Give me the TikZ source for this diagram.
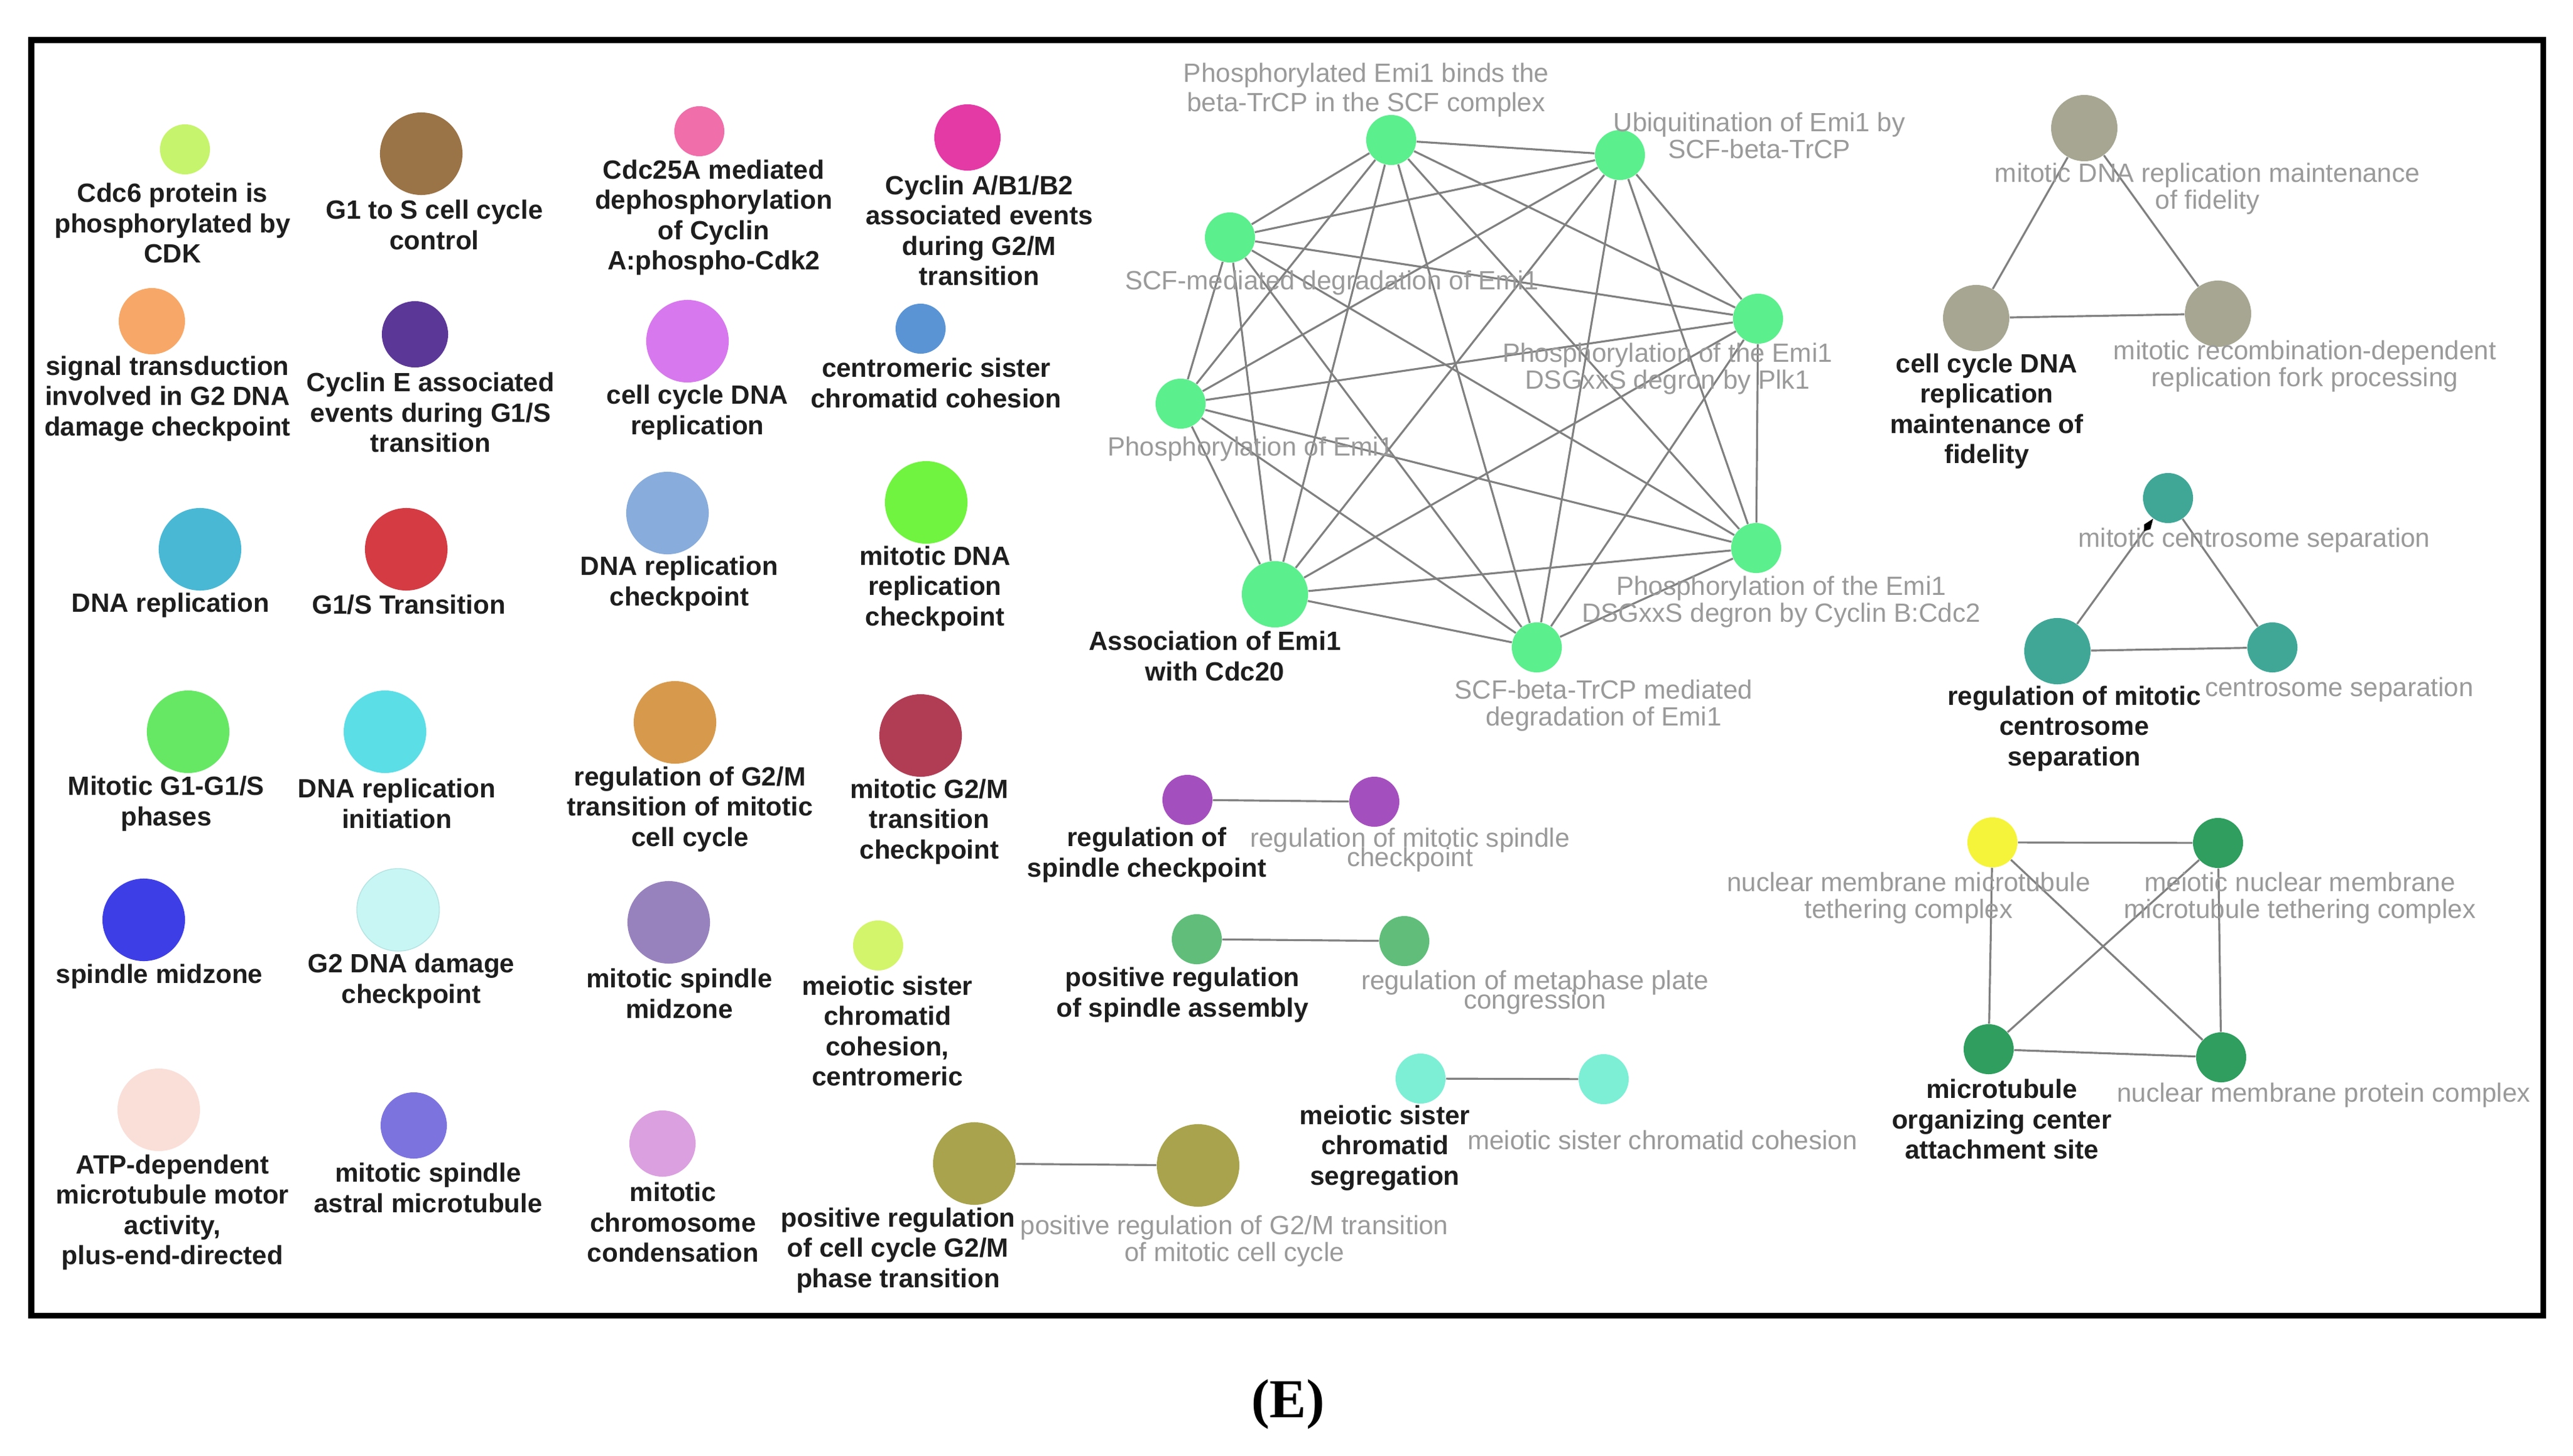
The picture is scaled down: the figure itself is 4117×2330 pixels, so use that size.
\documentclass[tikz,border=0pt]{standalone}
\usepackage{fontspec}
\setmainfont{Liberation Sans}
\newfontfamily\capfont{Liberation Serif}
\usetikzlibrary{arrows.meta}

\definecolor{termblack}{HTML}{1E1E1E}
\definecolor{hitgray}{HTML}{9A9A9A}
\definecolor{linkgray}{HTML}{808080}
\definecolor{cdcsix}{HTML}{C6F46C}
\definecolor{gones}{HTML}{9A7346}
\definecolor{cdcta}{HTML}{F06EAA}
\definecolor{cycab}{HTML}{E43AA6}
\definecolor{signal}{HTML}{F7A868}
\definecolor{cyce}{HTML}{5B3797}
\definecolor{ccdna}{HTML}{D778EE}
\definecolor{centro}{HTML}{5A94D5}
\definecolor{dnarep}{HTML}{48B8D5}
\definecolor{gonest}{HTML}{D43B43}
\definecolor{dnachk}{HTML}{88ACDB}
\definecolor{mitdna}{HTML}{70F43F}
\definecolor{mitgone}{HTML}{66E865}
\definecolor{dnaini}{HTML}{5CDEE6}
\definecolor{reggtm}{HTML}{D79A4D}
\definecolor{mitgtm}{HTML}{B13D55}
\definecolor{spmid}{HTML}{3E3EE6}
\definecolor{gtdna}{HTML}{C8F6F4}
\definecolor{gtdnarim}{HTML}{B4E4E2}
\definecolor{mitspm}{HTML}{9782BD}
\definecolor{meico}{HTML}{D3F56B}
\definecolor{atp}{HTML}{FADFD8}
\definecolor{astral}{HTML}{7C73DF}
\definecolor{chrcon}{HTML}{DBA0DF}
\definecolor{olive}{HTML}{A8A34C}
\definecolor{spindle}{HTML}{A44FBE}
\definecolor{assembly}{HTML}{60BE7A}
\definecolor{segreg}{HTML}{7DEFD5}
\definecolor{emi}{HTML}{5CEF8D}
\definecolor{fidel}{HTML}{A6A692}
\definecolor{centsep}{HTML}{40A797}
\definecolor{tether}{HTML}{F5F43A}
\definecolor{nucmem}{HTML}{2F9E5E}

\begin{document}
\begin{tikzpicture}[x=0.01cm, y=-0.01cm,
        sm/.style={circle, inner sep=0pt, minimum size=0.8cm},
        md/.style={circle, inner sep=0pt, minimum size=1.06cm},
        lg/.style={circle, inner sep=0pt, minimum size=1.32cm},
        term/.style={align=center, inner sep=0pt, text=termblack, font=\bfseries\fontsize{12}{13.8}\selectfont},
        hit/.style={align=center, inner sep=0pt, text=hitgray, font=\fontsize{12}{12.3}\selectfont},
        tighthit/.style={hit, font={\fontsize{12}{8.8}\selectfont\setlength{\lineskiplimit}{-20pt}}},
        link/.style={draw=linkgray, line width=0.9pt}]
            \useasboundingbox (0,0) rectangle (4117,2330);
            \draw[line width=0.09cm] (50,64) rectangle (4069,2105);

            % single terms
            \node[sm,fill=cdcsix] (cdcsix) at (296,239) {};
            \node[lg,fill=gones] (gones) at (674,246) {};
            \node[sm,fill=cdcta] (cdcta) at (1119,210) {};
            \node[md,fill=cycab] (cycab) at (1548,220) {};
            \node[md,fill=signal] (signal) at (243,514) {};
            \node[md,fill=cyce] (cyce) at (664,535) {};
            \node[lg,fill=ccdna] (ccdna) at (1100,546) {};
            \node[sm,fill=centro] (centro) at (1473,526) {};
            \node[lg,fill=dnarep] (dnarep) at (320,879) {};
            \node[lg,fill=gonest] (gonest) at (650,879) {};
            \node[lg,fill=dnachk] (dnachk) at (1068,821) {};
            \node[lg,fill=mitdna] (mitdna) at (1482,804) {};
            \node[lg,fill=mitgone] (mitgone) at (301,1171) {};
            \node[lg,fill=dnaini] (dnaini) at (616,1171) {};
            \node[lg,fill=reggtm] (reggtm) at (1080,1156) {};
            \node[lg,fill=mitgtm] (mitgtm) at (1473,1177) {};
            \node[lg,fill=spmid] (spmid) at (230,1472) {};
            \node[lg,fill=gtdna,draw=gtdnarim,line width=0.4pt] (gtdna) at (637,1456) {};
            \node[lg,fill=mitspm] (mitspm) at (1070,1476) {};
            \node[sm,fill=meico] (meico) at (1405,1513) {};
            \node[lg,fill=atp] (atp) at (254,1776) {};
            \node[md,fill=astral] (astral) at (662,1801) {};
            \node[md,fill=chrcon] (chrcon) at (1060,1830) {};

            \node[term] (cdcsixtxt) at (276,357) {Cdc6 protein is\\phosphorylated by\\CDK};
            \node[term] (gonestxt) at (695,360) {G1 to S cell cycle\\control};
            \node[term] (cdctatxt) at (1142,348) {Cdc25A mediated\\dephosphorylation\\of Cyclin\\A:phospho-Cdk2};
            \node[term] (cycabtxt) at (1567,369) {Cyclin A/B1/B2\\associated events\\during G2/M\\transition};
            \node[term] (signaltxt) at (268,638) {signal transduction\\involved in G2 DNA\\damage checkpoint};
            \node[term] (cycetxt) at (689,660) {Cyclin E associated\\events during G1/S\\transition};
            \node[term] (ccdnatxt) at (1116,660) {cell cycle DNA\\replication};
            \node[term] (centrotxt) at (1498,613) {centromeric sister\\chromatid cohesion};
            \node[term] (dnareptxt) at (273,969) {DNA replication};
            \node[term] (gonesttxt) at (654,968) {G1/S Transition};
            \node[term] (dnachktxt) at (1087,934) {DNA replication\\checkpoint};
            \node[term] (mitdnatxt) at (1496,942) {mitotic DNA\\replication\\checkpoint};
            \node[term] (mitgonetxt) at (266,1286) {Mitotic G1-G1/S\\phases};
            \node[term] (dnainitxt) at (635,1286) {DNA replication\\initiation};
            \node[term] (reggtmtxt) at (1104,1295) {regulation of G2/M\\transition of mitotic\\cell cycle};
            \node[term] (mitgtmtxt) at (1487,1315) {mitotic G2/M\\transition\\checkpoint};
            \node[term] (spmidtxt) at (255,1563) {spindle midzone};
            \node[term] (gtdnatxt) at (658,1570) {G2 DNA damage\\checkpoint};
            \node[term] (mitspmtxt) at (1087,1590) {mitotic spindle\\midzone};
            \node[term] (meicotxt) at (1420,1650) {meiotic sister\\chromatid\\cohesion,\\centromeric};
            \node[term] (atptxt) at (276,1940) {ATP-dependent\\microtubule motor\\activity,\\plus-end-directed};
            \node[term] (astraltxt) at (685,1901) {mitotic spindle\\astral microtubule};
            \node[term] (chrcontxt) at (1077,1956) {mitotic\\chromosome\\condensation};

            % pairs
            \node[lg,fill=olive] (posphase) at (1559,1862) {};
            \node[lg,fill=olive] (postrans) at (1917,1865) {};
            \node[sm,fill=spindle] (regspc) at (1900,1280) {};
            \node[sm,fill=spindle] (regmspc) at (2199,1283) {};
            \node[sm,fill=assembly] (posspa) at (1915,1503) {};
            \node[sm,fill=assembly] (metaph) at (2247,1506) {};
            \node[sm,fill=segreg] (meiseg) at (2273,1726) {};
            \node[sm,fill=segreg] (meicoh) at (2566,1727) {};

            \draw[link] (posphase) -- (postrans);
            \draw[link] (regspc) -- (regmspc);
            \draw[link] (posspa) -- (metaph);
            \draw[link] (meiseg) -- (meicoh);

            \node[term] (posphasetxt) at (1437,2001) {positive regulation\\of cell cycle G2/M\\phase transition};
            \node[hit] (postranstxt) at (1975,1986) {positive regulation of G2/M transition\\of mitotic cell cycle};
            \node[term] (regspctxt) at (1835,1368) {regulation of\\spindle checkpoint};
            \node[tighthit] (regmspctxt) at (2256,1360) {regulation of mitotic spindle\\checkpoint};
            \node[term] (posspatxt) at (1892,1592) {positive regulation\\of spindle assembly};
            \node[tighthit] (metaphtxt) at (2456,1588) {regulation of metaphase plate\\congression};
            \node[term] (meisegtxt) at (2216,1837) {meiotic sister\\chromatid\\segregation};
            \node[hit] (meicohtxt) at (2660,1824) {meiotic sister chromatid cohesion};

            % Emi1 cluster
            \node[sm,fill=emi] (pbind) at (2226,224) {};
            \node[sm,fill=emi] (ubiq) at (2592,248) {};
            \node[sm,fill=emi] (scfm) at (1968,380) {};
            \node[sm,fill=emi] (plk) at (2813,510) {};
            \node[sm,fill=emi] (phos) at (1889,646) {};
            \node[sm,fill=emi] (cycb) at (2810,877) {};
            \node[md,fill=emi] (assoc) at (2040,951) {};
            \node[sm,fill=emi] (scfb) at (2459,1036) {};

            \draw[link] (pbind) -- (ubiq) (pbind) -- (scfm) (pbind) -- (plk) (pbind) -- (phos) (pbind) -- (cycb) (pbind) -- (assoc) (pbind) -- (scfb);
            \draw[link] (ubiq) -- (scfm) (ubiq) -- (plk) (ubiq) -- (phos) (ubiq) -- (cycb) (ubiq) -- (assoc) (ubiq) -- (scfb);
            \draw[link] (scfm) -- (plk) (scfm) -- (phos) (scfm) -- (cycb) (scfm) -- (assoc) (scfm) -- (scfb);
            \draw[link] (plk) -- (phos) (plk) -- (cycb) (plk) -- (assoc) (plk) -- (scfb);
            \draw[link] (phos) -- (cycb) (phos) -- (assoc) (phos) -- (scfb);
            \draw[link] (cycb) -- (assoc) (cycb) -- (scfb);
            \draw[link] (assoc) -- (scfb);

            \node[hit,font=\fontsize{12}{13.4}\selectfont] (pbindtxt) at (2186,144) {Phosphorylated Emi1 binds the\\beta-TrCP in the SCF complex};
            \node[hit] (ubiqtxt) at (2815,217) {Ubiquitination of Emi1 by\\SCF-beta-TrCP};
            \node[hit] (scfmtxt) at (2131,453) {SCF-mediated degradation of Emi1};
            \node[hit] (plktxt) at (2668,590) {Phosphorylation of the Emi1\\DSGxxS degron by Plk1};
            \node[hit] (phostxt) at (2001,719) {Phosphorylation of Emi1};
            \node[hit] (cycbtxt) at (2850,963) {Phosphorylation of the Emi1\\DSGxxS degron by Cyclin B:Cdc2};
            \node[term] (assoctxt) at (1944,1050) {Association of Emi1\\with Cdc20};
            \node[hit] (scfbtxt) at (2566,1129) {SCF-beta-TrCP mediated\\degradation of Emi1};

            % fidelity triangle
            \node[md,fill=fidel] (mitfid) at (3335,205) {};
            \node[md,fill=fidel] (ccfid) at (3162,509) {};
            \node[md,fill=fidel] (recomb) at (3549,502) {};
            \draw[link] (mitfid) -- (ccfid);
            \draw[link] (mitfid) -- (recomb);
            \draw[link] (ccfid) -- (recomb);
            \node[hit] (mitfidtxt) at (3532,302) {mitotic DNA replication maintenance\\of fidelity};
            \node[term] (ccfidtxt) at (3179,658) {cell cycle DNA\\replication\\maintenance of\\fidelity};
            \node[hit] (recombtxt) at (3688,586) {mitotic recombination-dependent\\replication fork processing};

            % centrosome triangle
            \node[sm,fill=centsep] (mitcen) at (3469,797) {};
            \node[md,fill=centsep] (regcen) at (3292,1042) {};
            \node[sm,fill=centsep] (censep) at (3636,1036) {};
            \draw[link,-{Kite[length=7pt,width=3.6pt,inset=2.4pt,color=black]}] (regcen) -- (mitcen);
            \draw[link] (mitcen) -- (censep);
            \draw[link] (regcen) -- (censep);
            \node[hit] (mitcentxt) at (3607,865) {mitotic centrosome separation};
            \node[term] (regcentxt) at (3319,1166) {regulation of mitotic\\centrosome\\separation};
            \node[hit] (censeptxt) at (3743,1104) {centrosome separation};

            % nuclear membrane square
            \node[sm,fill=tether] (tether) at (3188,1348) {};
            \node[sm,fill=nucmem] (meimem) at (3549,1349) {};
            \node[sm,fill=nucmem] (mtoc) at (3182,1679) {};
            \node[sm,fill=nucmem] (nmprot) at (3554,1692) {};
            \draw[link] (tether) -- (meimem);
            \draw[link] (tether) -- (mtoc);
            \draw[link] (tether) -- (nmprot);
            \draw[link] (meimem) -- (mtoc);
            \draw[link] (meimem) -- (nmprot);
            \draw[link] (mtoc) -- (nmprot);
            \node[hit] (tethertxt) at (3054,1437) {nuclear membrane microtubule\\tethering complex};
            \node[hit] (meimemtxt) at (3680,1437) {meiotic nuclear membrane\\microtubule tethering complex};
            \node[term] (mtoctxt) at (3203,1791) {microtubule\\organizing center\\attachment site};
            \node[hit] (nmprottxt) at (3718,1753) {nuclear membrane protein complex};

            \node[anchor=base, font=\capfont\bfseries\fontsize{25}{30}\selectfont] (panel) at (2061,2268) {(E)};

        \end{tikzpicture}
\end{document}
